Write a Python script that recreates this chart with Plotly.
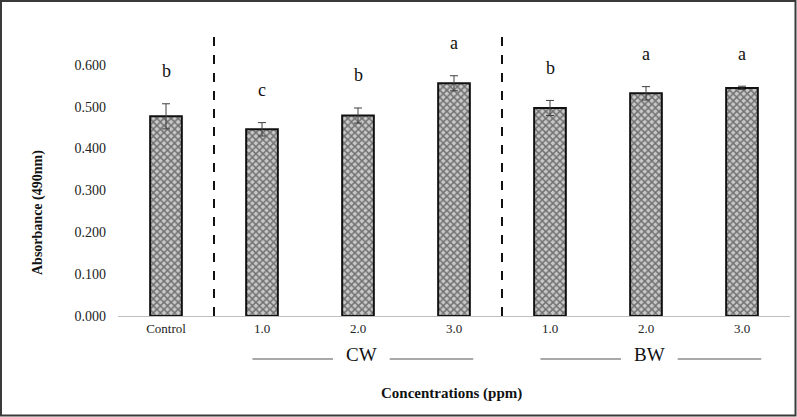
import plotly.graph_objects as go

tick_labels = ["Control", "1.0", "2.0", "3.0", "1.0", "2.0", "3.0"]
absorbance = [0.477, 0.446, 0.479, 0.556, 0.497, 0.532, 0.545]
errors = [0.030, 0.016, 0.018, 0.018, 0.018, 0.016, 0.004]
letters = ["b", "c", "b", "a", "b", "a", "a"]
groups = ["CW", "BW"]
group_centers = [2, 5]
y_ticks = [0.0, 0.1, 0.2, 0.3, 0.4, 0.5, 0.6]

xpos = list(range(len(tick_labels)))
SERIF = "Liberation Serif"

fig = go.Figure()
fig.add_trace(go.Bar(
    x=xpos, y=absorbance, width=0.33,
    marker=dict(color="#ffffff",
                line=dict(color="#111111", width=2),
                pattern=dict(shape="x", fgcolor="#1a1a1a", bgcolor="#c8c8c8",
                             size=5, solidity=0.5)),
    error_y=dict(type="data", array=errors, visible=True,
                 color="#404040", thickness=1, width=4),
    showlegend=False,
))

# significance letters
for xi, v, e, t in zip(xpos, absorbance, errors, letters):
    fig.add_annotation(x=xi, y=v + e + 0.078, text=t, showarrow=False,
                       font=dict(family=SERIF, size=18, color="#111111"),
                       xref="x", yref="y", yanchor="middle")

# dashed separators
for xs in [0.5, 3.5]:
    fig.add_shape(type="line", x0=xs, x1=xs, y0=0, y1=0.672, xref="x", yref="y",
                  line=dict(color="#111111", width=2, dash="dash"))

# group labels with lines
for g, c in zip(groups, group_centers):
    fig.add_annotation(x=c + 0.04, y=(316 - 354) / 293, text=g, showarrow=False,
                       font=dict(family=SERIF, size=19, color="#111111"),
                       xref="x", yref="paper", yanchor="middle", xanchor="center")
    for a, b in [(-1.1, -0.26), (0.33, 1.2)]:
        fig.add_shape(type="line", x0=c + a, x1=c + b,
                      y0=(316 - 359) / 293, y1=(316 - 359) / 293,
                      xref="x", yref="paper", line=dict(color="#555555", width=1))

# y axis title
fig.add_annotation(text="<b>Absorbance (490nm)</b>", textangle=-90,
                   xref="paper", yref="paper", x=(38 - 118) / 672, y=(316 - 213) / 293,
                   xanchor="center", yanchor="middle", showarrow=False,
                   font=dict(family=SERIF, size=14, color="#111111"))
# x axis title
fig.add_annotation(text="<b>Concentrations (ppm)</b>", xref="paper", yref="paper",
                   x=(451 - 118) / 672, y=(316 - 393) / 293,
                   xanchor="center", yanchor="middle", showarrow=False,
                   font=dict(family=SERIF, size=15, color="#111111"))

# outer frame
fig.add_shape(type="rect", xref="paper", yref="paper",
              x0=(1 - 118) / 672, x1=(795.5 - 118) / 672,
              y0=(316 - 415.5) / 293, y1=(316 - 1) / 293,
              line=dict(color="#3a3a3a", width=2))

fig.update_layout(
    width=797, height=417,
    margin=dict(l=118, r=7, t=23, b=101),
    paper_bgcolor="white", plot_bgcolor="white",
    xaxis=dict(tickvals=xpos, ticktext=tick_labels, range=[-0.5, 6.5],
               showline=True, linecolor="#bfbfbf", linewidth=1,
               showgrid=False, zeroline=False, ticks="",
               tickfont=dict(family=SERIF, size=13, color="#222222")),
    yaxis=dict(range=[0, 0.7], tickvals=y_ticks,
               ticktext=[f"{v:.3f}" for v in y_ticks],
               showgrid=False, zeroline=False, showline=False, ticks="",
               ticklabelstandoff=11,
               tickfont=dict(family=SERIF, size=14, color="#222222")),
)

fig.write_html("out.html", config={"displayModeBar": False},
               post_script="document.body.style.margin='0';document.body.style.overflow='hidden';")
